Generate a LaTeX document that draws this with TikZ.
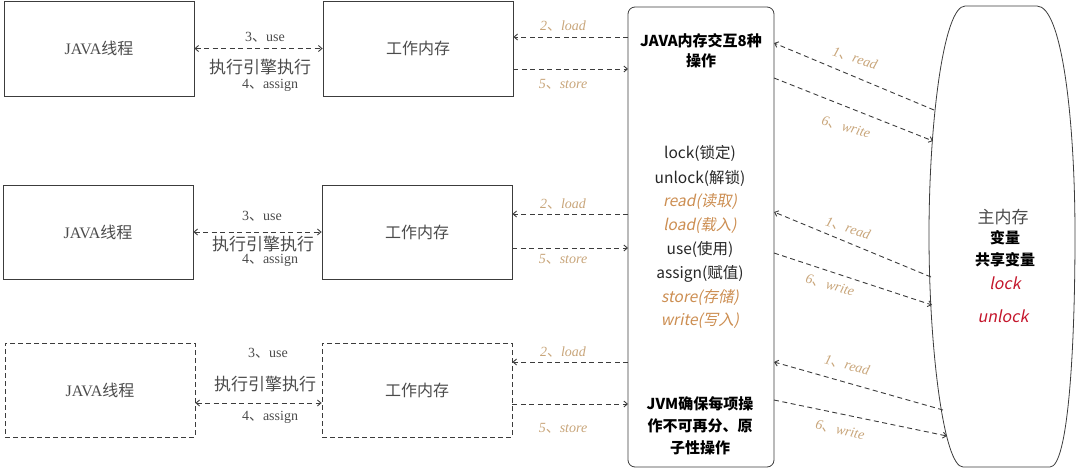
\documentclass[tikz,border=0pt]{standalone}
\usepackage{fontspec}
\setmainfont{Liberation Serif}
\newfontfamily\cjk{Noto Sans CJK SC}
\newfontfamily\cjkit{Noto Sans CJK SC}[FakeSlant=0.2]
\usetikzlibrary{arrows.meta}
\definecolor{boxgray}{RGB}{60,60,60}
\definecolor{txtgray}{RGB}{75,75,75}
\definecolor{tanlbl}{RGB}{200,165,122}
\definecolor{ochre}{RGB}{204,142,82}
\definecolor{memred}{RGB}{196,22,44}
\begin{document}
\begin{tikzpicture}[x=1pt,y=-1pt,
  >={Straight Barb[length=3.5pt,width=6pt]},
  box/.style={draw=boxgray, line width=0.8pt, minimum width=190pt, minimum height=95pt,
    inner sep=0pt, text=txtgray, font=\fontsize{16}{18}\selectfont},
  dbox/.style={box, dash pattern=on 5pt off 3pt},
  dline/.style={draw=boxgray, line width=0.9pt, dash pattern=on 5pt off 3.5pt},
  lbl/.style={text=txtgray, inner sep=1pt, font=\fontsize{14}{16}\selectfont},
  eng/.style={text=txtgray, inner sep=1pt, font=\fontsize{17}{19}\cjk},
  olbl/.style={text=tanlbl, inner sep=1pt, font=\fontsize{14}{16}\selectfont\itshape},
  opn/.style={text=black!85, inner sep=0pt, font=\fontsize{15.5}{17}\cjk},
  opi/.style={text=ochre, inner sep=0pt, font=\fontsize{15.5}{17}\cjkit},
  memt/.style={text=black, inner sep=0pt, font=\fontsize{16}{18}\cjk}]
\useasboundingbox (0,0) rectangle (1080,469);
% threads and working memory
\node[box] (thread1) at (99,48.5) {JAVA{\cjk 线程}};
\node[box] (work1) at (418,48.5) {\cjk 工作内存};
\node[box, minimum height=94pt] (thread2) at (98,232) {JAVA{\cjk 线程}};
\node[box, minimum height=94pt] (work2) at (417,232) {\cjk 工作内存};
\node[dbox, minimum height=94pt] (thread3) at (100,390) {JAVA{\cjk 线程}};
\node[dbox, minimum height=94pt] (work3) at (417,390) {\cjk 工作内存};
% the 8 operations
\node[draw=boxgray, line width=0.8pt, rounded corners=7pt, minimum width=146pt,
  minimum height=460pt] (ops) at (701,237) {};
\node[align=center, inner sep=0pt, font=\fontsize{15}{20}\cjk\bfseries] (title) at (701,51)
  {JAVA内存交互8种\\操作};
\node[opn] (op1) at (700,153) {lock(锁定)};
\node[opn] (op2) at (700,178) {unlock(解锁)};
\node[opi] (op3) at (700,202) {read(读取)};
\node[opi] (op4) at (700,225) {load(载入)};
\node[opn] (op5) at (700,249) {use(使用)};
\node[opn] (op6) at (700,274) {assign(赋值)};
\node[opi] (op7) at (700,297) {store(存储)};
\node[opi] (op8) at (700,321) {write(写入)};
\node[align=center, inner sep=0pt, font=\fontsize{15}{22}\cjk\bfseries] (jvm) at (700,426)
  {JVM确保每项操\\作不可再分、原\\子性操作};
% main memory
\draw[draw=boxgray, line width=0.8pt] (965,6) -- (1037,6)
  .. controls (1062,6) and (1075,120) .. (1075,235)
  .. controls (1075,350) and (1068,467) .. (1050,467) -- (963,467)
  .. controls (944,467) and (929,350) .. (929,235)
  .. controls (929,120) and (944,6) .. (965,6) -- cycle;
\node[memt, text=txtgray, font=\fontsize{17}{19}\cjk] (mem1) at (1003,217) {主内存};
\node[memt, font=\fontsize{15}{17}\cjk\bfseries] (mem2) at (1005,238) {变量};
\node[memt, font=\fontsize{15}{17}\cjk\bfseries] (mem3) at (1005,260) {共享变量};
\node[memt, text=memred, font=\fontsize{16}{18}\cjkit] (mem4) at (1005,283) {lock};
\node[memt, text=memred, font=\fontsize{16}{18}\cjkit] (mem5) at (1003,316) {unlock};
% row 1
\draw[dline,<->] (thread1) -- (work1);
\node[lbl] (use1) at (265,37) {3{\cjk 、}use};
\node[eng] (eng1) at (260,67) {执行引擎执行};
\node[lbl] (asg1) at (270,85) {4{\cjk 、}assign};
\coordinate (ld1) at (628,37);
\coordinate (st1) at (628,69);
\draw[dline,->] (ld1) -- (ld1 -| work1.east);
\draw[dline,->] (st1 -| work1.east) -- (st1);
\node[olbl] (load1) at (563,26) {2{\cjk 、}load};
\node[olbl] (store1) at (563,84) {5{\cjk 、}store};
\coordinate (rd1) at (934,110);
\coordinate (rdo1) at (774,43);
\coordinate (wr1) at (933,141);
\coordinate (wro1) at (774,78);
\draw[dline,->] (rd1) -- (rdo1);
\draw[dline,->] (wro1) -- (wr1);
\node[olbl, rotate=-18] (read1) at (855,58) {1{\cjk 、}read};
\node[olbl, rotate=-16] (write1) at (846,127) {6{\cjk 、}write};
% row 2
\draw[dline,<->] (thread2) -- (work2);
\node[lbl] (use2) at (262,216) {3{\cjk 、}use};
\node[eng] (eng2) at (263,244) {执行引擎执行};
\node[lbl] (asg2) at (270,260) {4{\cjk 、}assign};
\coordinate (ld2) at (628,214);
\coordinate (st2) at (628,248);
\draw[dline,->] (ld2) -- (ld2 -| work2.east);
\draw[dline,->] (st2 -| work2.east) -- (st2);
\node[olbl] (load2) at (563,204) {2{\cjk 、}load};
\node[olbl] (store2) at (563,259) {5{\cjk 、}store};
\coordinate (rd2) at (931,277);
\coordinate (rdo2) at (774,212);
\coordinate (wr2) at (932,305);
\coordinate (wro2) at (774,253);
\draw[dline,->] (rd2) -- (rdo2);
\draw[dline,->] (wro2) -- (wr2);
\node[olbl, rotate=-18] (read2) at (848,228) {1{\cjk 、}read};
\node[olbl, rotate=-16] (write2) at (830,285) {6{\cjk 、}write};
% row 3
\coordinate (ua3) at (260,403);
\draw[dline,<->] (thread3.east |- ua3) -- (work3.west |- ua3);
\node[lbl] (use3) at (268,353) {3{\cjk 、}use};
\node[eng] (eng3) at (265,384) {执行引擎执行};
\node[lbl] (asg3) at (270,417) {4{\cjk 、}assign};
\coordinate (ld3) at (628,362);
\coordinate (st3) at (628,404);
\draw[dline,->] (ld3) -- (ld3 -| work3.east);
\draw[dline,->] (st3 -| work3.east) -- (st3);
\node[olbl] (load3) at (563,352) {2{\cjk 、}load};
\node[olbl] (store3) at (563,428) {5{\cjk 、}store};
\coordinate (rd3) at (943,410);
\coordinate (rdo3) at (774,362);
\coordinate (wr3) at (947,436);
\coordinate (wro3) at (774,400);
\draw[dline,->] (rd3) -- (rdo3);
\draw[dline,->] (wro3) -- (wr3);
\node[olbl, rotate=-15] (read3) at (847,365) {1{\cjk 、}read};
\node[olbl, rotate=-13] (write3) at (840,430) {6{\cjk 、}write};
\end{tikzpicture}
\end{document}
